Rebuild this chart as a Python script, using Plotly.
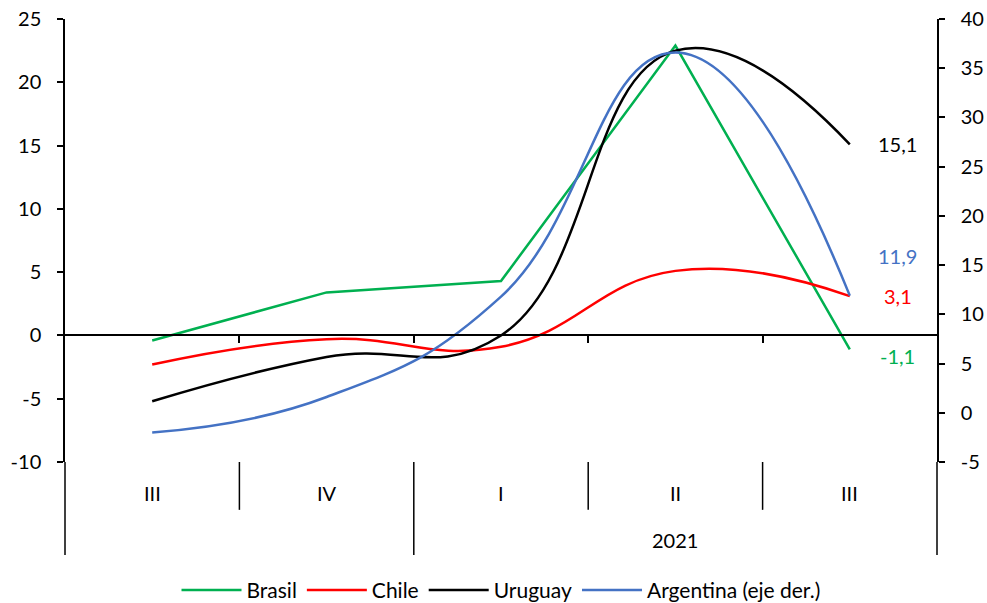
import plotly.graph_objects as go

# quarters: III, IV (2020) and I, II, III (2021)
quarters = ["III", "IV", "I", "II", "III"]
brasil = [-0.4, 3.4, 4.3, 22.9, -1.1]
chile = [-2.3, -0.3, -0.9, 5.1, 3.1]
uruguay = [-5.2, -1.7, 0.0, 22.5, 15.1]
argentina = [-2.0, 1.6, 11.8, 36.6, 11.9]   # right axis

left_ticks = list(range(-10, 30, 5))
right_ticks = list(range(-5, 45, 5))

FONT = "Lato, 'Open Sans', sans-serif"
FS = 20
x = list(range(len(quarters)))

fig = go.Figure()
fig.add_trace(go.Scatter(x=x, y=brasil, name="Brasil", mode="lines",
                         line=dict(color="#00B050", width=2.5)))
fig.add_trace(go.Scatter(x=x, y=chile, name="Chile", mode="lines",
                         line=dict(color="#FF0000", width=2.5, shape="spline", smoothing=1.3)))
fig.add_trace(go.Scatter(x=x, y=uruguay, name="Uruguay", mode="lines",
                         line=dict(color="#000000", width=2.5, shape="spline", smoothing=1.3)))
fig.add_trace(go.Scatter(x=x, y=argentina, name="Argentina (eje der.)", mode="lines", yaxis="y2",
                         line=dict(color="#4472C4", width=2.5, shape="spline", smoothing=1.3)))

# x axis drawn through zero of the left axis
zero_pos = (0 - left_ticks[0]) / (left_ticks[-1] - left_ticks[0])

def hyph(vals):
    return [str(v).replace("\u2212", "-") for v in vals]

fig.update_layout(
    width=987, height=603,
    margin=dict(l=65, r=50, t=19, b=141, autoexpand=False),
    paper_bgcolor="white", plot_bgcolor="white",
    font=dict(family=FONT, size=FS, color="black"),
    showlegend=True,
    legend=dict(orientation="h", x=0.5, xanchor="center", y=-0.29, yanchor="middle",
                font=dict(size=21), itemwidth=60, traceorder="normal"),
    xaxis=dict(range=[-0.5, len(quarters) - 0.5], anchor="free", position=zero_pos,
               showline=True, linecolor="black", linewidth=1.5,
               ticks="outside", ticklen=7, tickcolor="black", tickwidth=1.5,
               tickvals=[i + 0.5 for i in range(len(quarters) - 1)],
               showticklabels=False, showgrid=False, zeroline=False),
    yaxis=dict(range=[left_ticks[0], left_ticks[-1]], tickvals=left_ticks,
               ticktext=hyph(left_ticks), automargin=False,
               showline=True, linecolor="black", linewidth=1.5,
               ticks="outside", ticklen=6, tickcolor="black", tickwidth=1.5,
               ticklabelstandoff=12, showgrid=False, zeroline=False),
    yaxis2=dict(range=[right_ticks[0], right_ticks[-1]], tickvals=right_ticks,
                ticktext=hyph(right_ticks), automargin=False,
                overlaying="y", side="right",
                showline=True, linecolor="black", linewidth=1.5,
                ticks="outside", ticklen=6, tickcolor="black", tickwidth=1.5,
                ticklabelstandoff=12, showgrid=False, zeroline=False),
)

# category separators below the plot
short_y, long_y = -0.108, -0.21
shapes = []
for i in range(len(quarters) - 1):
    bottom = long_y if i == 1 else short_y
    shapes.append(dict(type="line", xref="x", yref="paper", x0=i + 0.5, x1=i + 0.5,
                       y0=0, y1=bottom, line=dict(color="black", width=1.5)))
for px_ in (0, 1):
    shapes.append(dict(type="line", xref="paper", yref="paper", x0=px_, x1=px_,
                       y0=0, y1=long_y, line=dict(color="black", width=1.5)))
fig.update_layout(shapes=shapes)

ann = []
for i, q in enumerate(quarters):
    ann.append(dict(x=i, y=-0.07, xref="x", yref="paper", text=q, showarrow=False,
                    yanchor="middle", font=dict(size=FS)))
ann.append(dict(x=3, y=-0.176, xref="x", yref="paper", text="2021", showarrow=False,
                yanchor="middle", font=dict(size=FS)))

# end-of-series value labels
def lab(v):
    return f"{v:.1f}".replace(".", ",")

ends = [
    (uruguay[-1], "y", "#000000", 0),
    (argentina[-1], "y2", "#4472C4", 40),
    (chile[-1], "y", "#FF0000", 0),
    (brasil[-1], "y", "#00B050", -7),
]
for v, yr, col, ys in ends:
    ann.append(dict(x=len(quarters) - 1, y=v, xref="x", yref=yr, text=lab(v),
                    showarrow=False, xshift=48, yshift=ys, font=dict(size=FS, color=col)))
fig.update_layout(annotations=ann)

# remove the default page margin so the figure sits at the window origin
fig.write_html("out.html", config={"displayModeBar": False},
               post_script="document.body.style.margin='0';")
